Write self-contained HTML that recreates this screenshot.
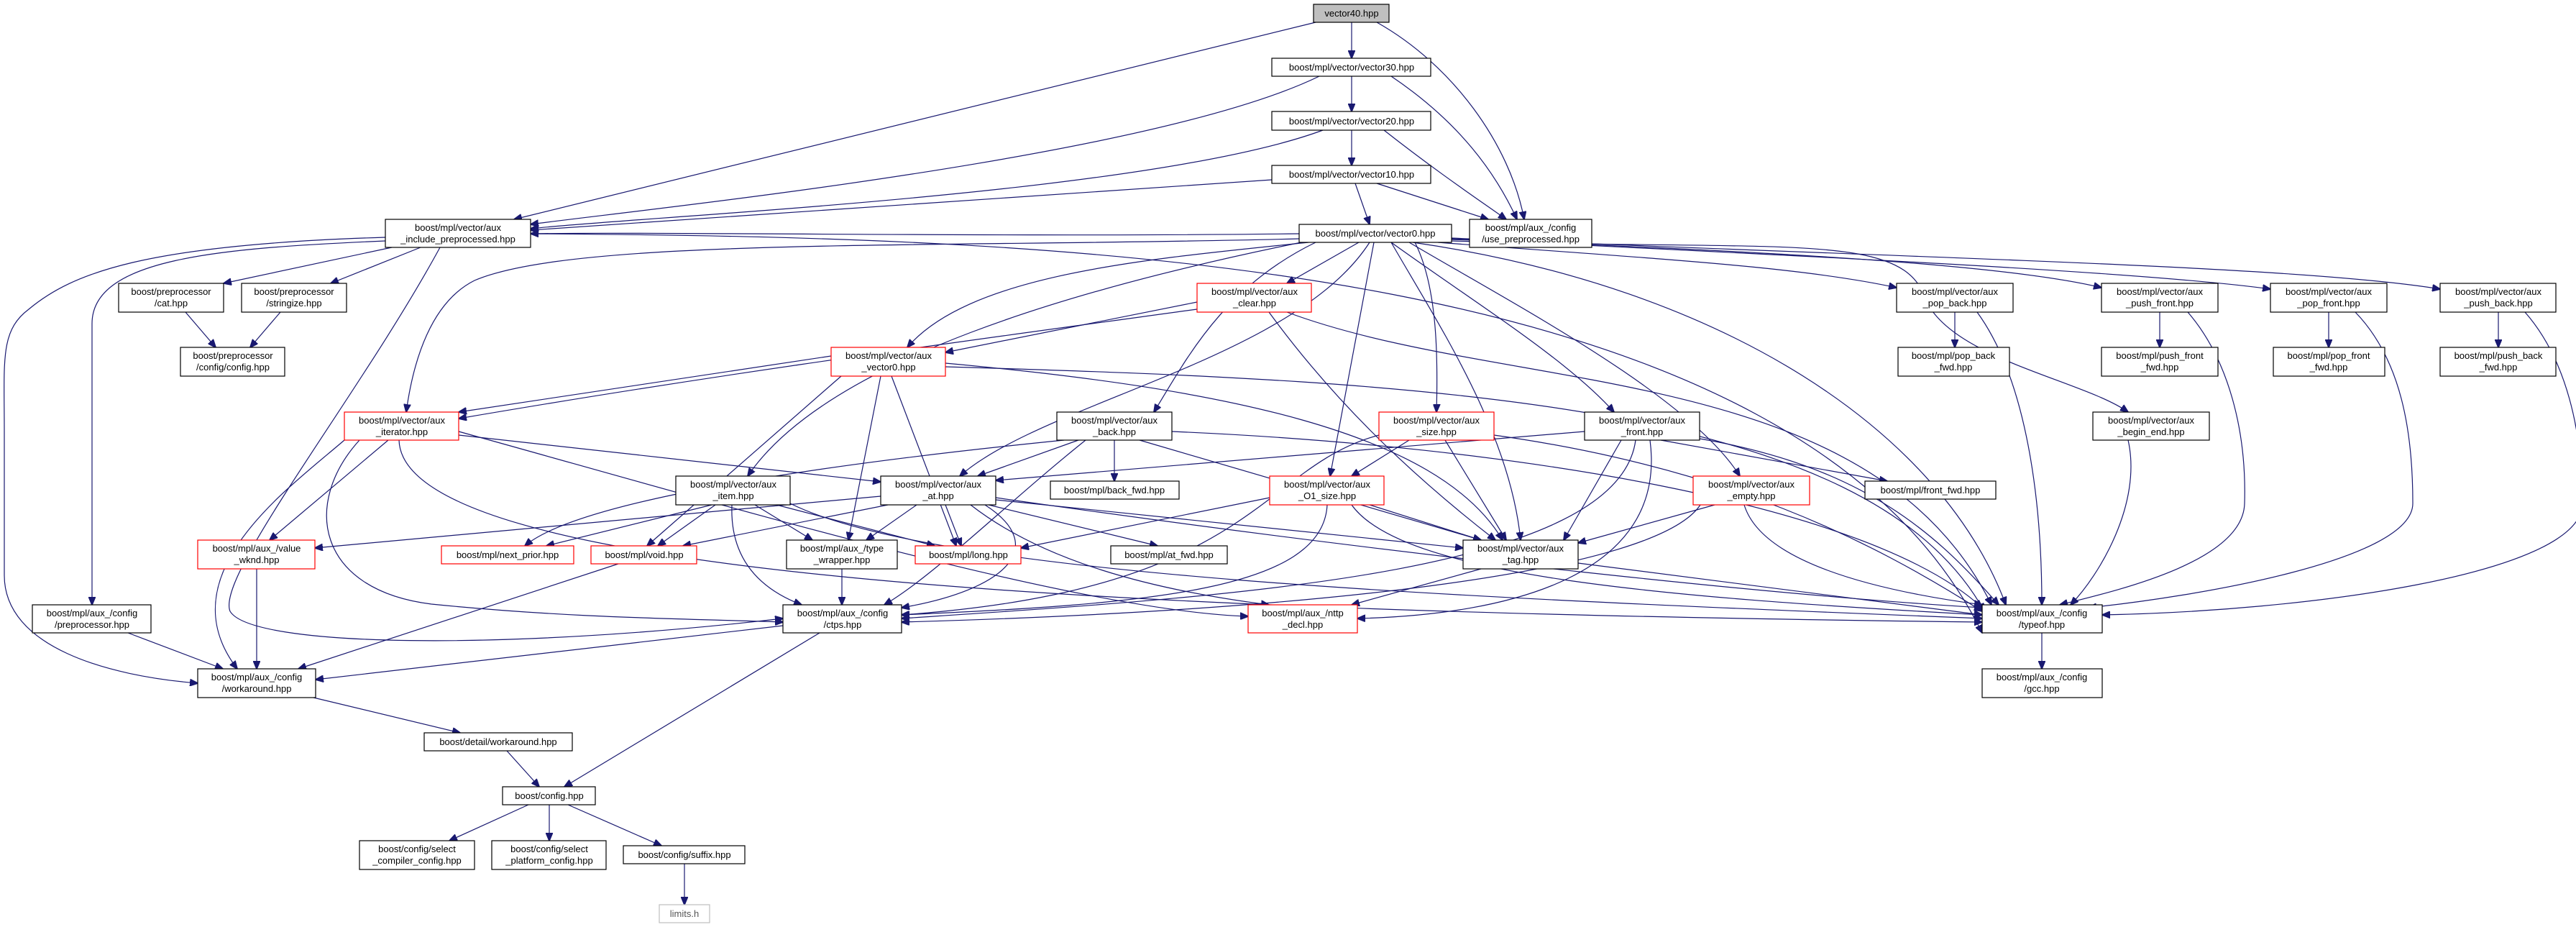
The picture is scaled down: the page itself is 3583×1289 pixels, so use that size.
<!DOCTYPE html>
<html><head><meta charset="utf-8"><style>
html,body{margin:0;padding:0;background:#fff;}
svg{display:block;}
text{font-family:"Liberation Sans",sans-serif;font-size:13px;fill:#000;text-anchor:middle;}
.n{fill:#fff;stroke:#000;stroke-width:1.2;}
.r{fill:#fff;stroke:#ff0000;stroke-width:1.2;}
.e path{fill:none;stroke:#191970;stroke-width:1.2;}
</style></head><body>
<svg width="3583" height="1289" viewBox="0 0 3583 1289" xmlns="http://www.w3.org/2000/svg">
<defs><marker id="a" markerWidth="12" markerHeight="10" refX="11" refY="5" orient="auto" markerUnits="userSpaceOnUse"><path d="M0,0 L12,5 L0,10 z" fill="#191970" stroke="#191970"/></marker></defs>
<g class="e" marker-end="url(#a)">
<path d="M1880,31 L1880,81" marker-end="url(#a)"/>
<path d="M1830,31 L715,305" marker-end="url(#a)"/>
<path d="M1915,31 C2020,90 2100,200 2120,305" marker-end="url(#a)"/>
<path d="M1880,106 L1880,155" marker-end="url(#a)"/>
<path d="M1835,106 C1600,220 900,290 738,312" marker-end="url(#a)"/>
<path d="M1935,106 C2030,170 2080,240 2110,305" marker-end="url(#a)"/>
<path d="M1880,181 L1880,230" marker-end="url(#a)"/>
<path d="M1840,181 C1600,270 900,300 738,318" marker-end="url(#a)"/>
<path d="M1925,181 C2000,240 2060,280 2095,305" marker-end="url(#a)"/>
<path d="M1885,255 L1905,312" marker-end="url(#a)"/>
<path d="M1769,250 L738,320" marker-end="url(#a)"/>
<path d="M1915,255 L2070,305" marker-end="url(#a)"/>
<path d="M1807,325 C1400,330 900,322 738,325" marker-end="url(#a)"/>
<path d="M1890,337 L1790,394" marker-end="url(#a)"/>
<path d="M1820,337 C1600,360 1350,380 1262,483" marker-end="url(#a)"/>
<path d="M1807,332 C1300,345 800,330 660,390 C600,420 575,500 565,573" marker-end="url(#a)"/>
<path d="M1830,337 C1700,400 1650,500 1605,573" marker-end="url(#a)"/>
<path d="M1968,337 C2000,400 2000,500 1998,573" marker-end="url(#a)"/>
<path d="M1935,337 C2050,420 2180,500 2245,573" marker-end="url(#a)"/>
<path d="M1810,337 C1500,400 1150,500 1040,662" marker-end="url(#a)"/>
<path d="M1905,337 C1800,500 1450,560 1335,662" marker-end="url(#a)"/>
<path d="M1911,337 L1850,662" marker-end="url(#a)"/>
<path d="M1960,337 C2100,420 2350,550 2420,662" marker-end="url(#a)"/>
<path d="M1935,337 C2000,450 2100,600 2115,751" marker-end="url(#a)"/>
<path d="M1965,337 C2400,400 2700,600 2790,841" marker-end="url(#a)"/>
<path d="M2000,337 C2300,360 2500,370 2638,400" marker-end="url(#a)"/>
<path d="M2019,333 C2500,350 2800,370 2923,400" marker-end="url(#a)"/>
<path d="M2019,332 C2600,360 3000,380 3158,402" marker-end="url(#a)"/>
<path d="M2019,331 C2700,360 3200,370 3394,402" marker-end="url(#a)"/>
<path d="M2019,335 C2500,350 2650,320 2680,420 C2720,500 2900,530 2960,573" marker-end="url(#a)"/>
<path d="M545,344 L311,394" marker-end="url(#a)"/>
<path d="M585,344 L460,394" marker-end="url(#a)"/>
<path d="M536,335 C300,345 128,360 128,450 L128,841" marker-end="url(#a)"/>
<path d="M536,330 C200,340 100,380 40,430 C0,460 6,500 6,600 L6,800 C6,900 150,940 275,950" marker-end="url(#a)"/>
<path d="M612,344 C500,550 300,800 320,850 C350,900 700,905 1089,860" marker-end="url(#a)"/>
<path d="M738,325 C1500,330 2500,360 2757,880" marker-end="url(#a)"/>
<path d="M258,434 L300,483" marker-end="url(#a)"/>
<path d="M390,434 L348,483" marker-end="url(#a)"/>
<path d="M1665,420 L1315,490" marker-end="url(#a)"/>
<path d="M1665,430 C1300,480 1000,520 638,582" marker-end="url(#a)"/>
<path d="M1765,434 C1850,550 1950,650 2080,751" marker-end="url(#a)"/>
<path d="M1790,434 C2100,550 2600,500 2770,841" marker-end="url(#a)"/>
<path d="M1156,495 L638,573" marker-end="url(#a)"/>
<path d="M1225,523 L1180,751" marker-end="url(#a)"/>
<path d="M1240,523 L1330,759" marker-end="url(#a)"/>
<path d="M1170,523 L900,759" marker-end="url(#a)"/>
<path d="M1315,505 C1700,540 2000,600 2090,751" marker-end="url(#a)"/>
<path d="M1315,510 C2000,530 2600,560 2760,850" marker-end="url(#a)"/>
<path d="M638,605 L1225,670" marker-end="url(#a)"/>
<path d="M540,612 L375,751" marker-end="url(#a)"/>
<path d="M500,612 C420,700 440,820 600,840 C800,860 950,860 1089,865" marker-end="url(#a)"/>
<path d="M479,612 C400,680 230,800 330,930" marker-end="url(#a)"/>
<path d="M555,612 C560,800 1500,850 2757,865" marker-end="url(#a)"/>
<path d="M638,600 C1000,700 1500,850 1736,857" marker-end="url(#a)"/>
<path d="M1500,612 L1360,662" marker-end="url(#a)"/>
<path d="M1550,612 L1550,669" marker-end="url(#a)"/>
<path d="M1480,612 C1100,650 800,700 730,759" marker-end="url(#a)"/>
<path d="M1585,612 L2060,751" marker-end="url(#a)"/>
<path d="M1630,600 C2100,620 2600,700 2757,845" marker-end="url(#a)"/>
<path d="M1510,612 C1400,700 1300,800 1230,841" marker-end="url(#a)"/>
<path d="M1960,612 L1880,662" marker-end="url(#a)"/>
<path d="M2010,612 L2095,751" marker-end="url(#a)"/>
<path d="M2078,605 C2400,650 2600,750 2757,850" marker-end="url(#a)"/>
<path d="M1918,605 C1750,650 1750,820 1254,855" marker-end="url(#a)"/>
<path d="M2204,600 L1385,668" marker-end="url(#a)"/>
<path d="M2310,612 L2625,669" marker-end="url(#a)"/>
<path d="M2255,612 L2175,751" marker-end="url(#a)"/>
<path d="M2364,610 C2600,650 2700,750 2780,841" marker-end="url(#a)"/>
<path d="M2275,612 C2250,800 1700,830 1254,860" marker-end="url(#a)"/>
<path d="M2295,612 C2320,800 2100,855 1888,860" marker-end="url(#a)"/>
<path d="M2385,702 L2195,755" marker-end="url(#a)"/>
<path d="M2426,702 C2450,780 2600,820 2757,841" marker-end="url(#a)"/>
<path d="M2365,702 C2300,800 1800,850 1254,865" marker-end="url(#a)"/>
<path d="M990,702 L760,759" marker-end="url(#a)"/>
<path d="M995,702 L915,759" marker-end="url(#a)"/>
<path d="M1050,702 L1130,751" marker-end="url(#a)"/>
<path d="M1018,702 C1015,780 1060,820 1115,841" marker-end="url(#a)"/>
<path d="M1080,702 L1300,759" marker-end="url(#a)"/>
<path d="M1099,700 C1300,800 2000,830 2757,860" marker-end="url(#a)"/>
<path d="M1225,690 L438,762" marker-end="url(#a)"/>
<path d="M1235,702 L950,759" marker-end="url(#a)"/>
<path d="M1275,702 L1205,751" marker-end="url(#a)"/>
<path d="M1315,702 L1337,759" marker-end="url(#a)"/>
<path d="M1375,702 L1610,759" marker-end="url(#a)"/>
<path d="M1385,695 L2035,762" marker-end="url(#a)"/>
<path d="M1370,702 C1460,760 1400,820 1254,845" marker-end="url(#a)"/>
<path d="M1350,702 C1450,780 1600,820 1765,841" marker-end="url(#a)"/>
<path d="M1385,692 C2000,780 2500,830 2757,845" marker-end="url(#a)"/>
<path d="M1766,692 L1420,762" marker-end="url(#a)"/>
<path d="M1905,702 L2060,751" marker-end="url(#a)"/>
<path d="M1846,702 C1840,820 1600,840 1254,855" marker-end="url(#a)"/>
<path d="M1880,702 C1950,800 2300,830 2757,855" marker-end="url(#a)"/>
<path d="M2060,791 L1880,841" marker-end="url(#a)"/>
<path d="M2195,783 L2757,855" marker-end="url(#a)"/>
<path d="M2719,434 L2719,483" marker-end="url(#a)"/>
<path d="M2750,434 C2820,530 2840,700 2840,841" marker-end="url(#a)"/>
<path d="M3004,434 L3004,483" marker-end="url(#a)"/>
<path d="M3043,434 C3100,500 3125,600 3122,700 C3120,780 2950,820 2865,841" marker-end="url(#a)"/>
<path d="M3239,434 L3239,483" marker-end="url(#a)"/>
<path d="M3276,434 C3340,500 3356,600 3356,700 C3356,780 3050,830 2905,845" marker-end="url(#a)"/>
<path d="M3475,434 L3475,483" marker-end="url(#a)"/>
<path d="M3512,434 C3570,500 3592,600 3592,700 C3592,800 3200,850 2924,855" marker-end="url(#a)"/>
<path d="M2960,612 C2980,700 2920,800 2880,841" marker-end="url(#a)"/>
<path d="M357,791 L357,930" marker-end="url(#a)"/>
<path d="M860,784 L415,930" marker-end="url(#a)"/>
<path d="M1171,791 L1171,841" marker-end="url(#a)"/>
<path d="M178,880 L310,930" marker-end="url(#a)"/>
<path d="M1089,870 L439,945" marker-end="url(#a)"/>
<path d="M1140,880 L785,1094" marker-end="url(#a)"/>
<path d="M2840,880 L2840,930" marker-end="url(#a)"/>
<path d="M436,970 L640,1019" marker-end="url(#a)"/>
<path d="M705,1044 L750,1094" marker-end="url(#a)"/>
<path d="M735,1119 L625,1169" marker-end="url(#a)"/>
<path d="M764,1119 L764,1169" marker-end="url(#a)"/>
<path d="M790,1119 L920,1176" marker-end="url(#a)"/>
<path d="M952,1201 L952,1258" marker-end="url(#a)"/>
</g>
<g>
<rect x="1827" y="6" width="105" height="25" fill="#bfbfbf" stroke="#000" stroke-width="1.2"/><text x="1880" y="23">vector40.hpp</text>
<rect class="n" x="1769" y="81" width="221" height="25"/><text x="1880" y="98">boost/mpl/vector/vector30.hpp</text>
<rect class="n" x="1769" y="155" width="221" height="26"/><text x="1880" y="173">boost/mpl/vector/vector20.hpp</text>
<rect class="n" x="1769" y="230" width="221" height="25"/><text x="1880" y="247">boost/mpl/vector/vector10.hpp</text>
<rect class="n" x="1807" y="312" width="212" height="25"/><text x="1913" y="329">boost/mpl/vector/vector0.hpp</text>
<rect class="n" x="536" y="305" width="202" height="39"/><text x="637" y="321">boost/mpl/vector/aux</text><text x="637" y="337">_include_preprocessed.hpp</text>
<rect class="n" x="2044" y="305" width="170" height="39"/><text x="2129" y="321">boost/mpl/aux_/config</text><text x="2129" y="337">/use_preprocessed.hpp</text>
<rect class="n" x="165" y="394" width="146" height="40"/><text x="238" y="410">boost/preprocessor</text><text x="238" y="426">/cat.hpp</text>
<rect class="n" x="336" y="394" width="146" height="40"/><text x="409" y="410">boost/preprocessor</text><text x="409" y="426">/stringize.hpp</text>
<rect class="r" x="1665" y="394" width="159" height="40"/><text x="1745" y="410">boost/mpl/vector/aux</text><text x="1745" y="426">_clear.hpp</text>
<rect class="n" x="2638" y="394" width="162" height="40"/><text x="2719" y="410">boost/mpl/vector/aux</text><text x="2719" y="426">_pop_back.hpp</text>
<rect class="n" x="2923" y="394" width="162" height="40"/><text x="3004" y="410">boost/mpl/vector/aux</text><text x="3004" y="426">_push_front.hpp</text>
<rect class="n" x="3158" y="394" width="162" height="40"/><text x="3239" y="410">boost/mpl/vector/aux</text><text x="3239" y="426">_pop_front.hpp</text>
<rect class="n" x="3394" y="394" width="161" height="40"/><text x="3475" y="410">boost/mpl/vector/aux</text><text x="3475" y="426">_push_back.hpp</text>
<rect class="n" x="251" y="483" width="145" height="40"/><text x="324" y="499">boost/preprocessor</text><text x="324" y="515">/config/config.hpp</text>
<rect class="r" x="1156" y="483" width="159" height="40"/><text x="1236" y="499">boost/mpl/vector/aux</text><text x="1236" y="515">_vector0.hpp</text>
<rect class="n" x="2640" y="483" width="155" height="40"/><text x="2717" y="499">boost/mpl/pop_back</text><text x="2717" y="515">_fwd.hpp</text>
<rect class="n" x="2923" y="483" width="162" height="40"/><text x="3004" y="499">boost/mpl/push_front</text><text x="3004" y="515">_fwd.hpp</text>
<rect class="n" x="3162" y="483" width="155" height="40"/><text x="3239" y="499">boost/mpl/pop_front</text><text x="3239" y="515">_fwd.hpp</text>
<rect class="n" x="3394" y="483" width="161" height="40"/><text x="3475" y="499">boost/mpl/push_back</text><text x="3475" y="515">_fwd.hpp</text>
<rect class="r" x="479" y="573" width="159" height="39"/><text x="559" y="589">boost/mpl/vector/aux</text><text x="559" y="605">_iterator.hpp</text>
<rect class="n" x="1470" y="573" width="160" height="39"/><text x="1550" y="589">boost/mpl/vector/aux</text><text x="1550" y="605">_back.hpp</text>
<rect class="r" x="1918" y="573" width="160" height="39"/><text x="1998" y="589">boost/mpl/vector/aux</text><text x="1998" y="605">_size.hpp</text>
<rect class="n" x="2204" y="573" width="160" height="39"/><text x="2284" y="589">boost/mpl/vector/aux</text><text x="2284" y="605">_front.hpp</text>
<rect class="n" x="2911" y="573" width="162" height="39"/><text x="2992" y="589">boost/mpl/vector/aux</text><text x="2992" y="605">_begin_end.hpp</text>
<rect class="n" x="940" y="662" width="159" height="40"/><text x="1020" y="678">boost/mpl/vector/aux</text><text x="1020" y="694">_item.hpp</text>
<rect class="n" x="1225" y="662" width="160" height="40"/><text x="1305" y="678">boost/mpl/vector/aux</text><text x="1305" y="694">_at.hpp</text>
<rect class="n" x="1461" y="669" width="179" height="25"/><text x="1550" y="686">boost/mpl/back_fwd.hpp</text>
<rect class="r" x="1766" y="662" width="159" height="40"/><text x="1846" y="678">boost/mpl/vector/aux</text><text x="1846" y="694">_O1_size.hpp</text>
<rect class="r" x="2355" y="662" width="162" height="40"/><text x="2436" y="678">boost/mpl/vector/aux</text><text x="2436" y="694">_empty.hpp</text>
<rect class="n" x="2594" y="669" width="182" height="25"/><text x="2685" y="686">boost/mpl/front_fwd.hpp</text>
<rect class="r" x="275" y="751" width="163" height="40"/><text x="357" y="767">boost/mpl/aux_/value</text><text x="357" y="783">_wknd.hpp</text>
<rect class="n" x="1094" y="751" width="154" height="40"/><text x="1171" y="767">boost/mpl/aux_/type</text><text x="1171" y="783">_wrapper.hpp</text>
<rect class="n" x="2035" y="751" width="160" height="40"/><text x="2115" y="767">boost/mpl/vector/aux</text><text x="2115" y="783">_tag.hpp</text>
<rect class="r" x="614" y="759" width="184" height="25"/><text x="706" y="776">boost/mpl/next_prior.hpp</text>
<rect class="r" x="822" y="759" width="147" height="25"/><text x="896" y="776">boost/mpl/void.hpp</text>
<rect class="r" x="1273" y="759" width="147" height="25"/><text x="1347" y="776">boost/mpl/long.hpp</text>
<rect class="n" x="1545" y="759" width="162" height="25"/><text x="1626" y="776">boost/mpl/at_fwd.hpp</text>
<rect class="n" x="45" y="841" width="165" height="39"/><text x="128" y="857">boost/mpl/aux_/config</text><text x="128" y="873">/preprocessor.hpp</text>
<rect class="n" x="1089" y="841" width="165" height="39"/><text x="1172" y="857">boost/mpl/aux_/config</text><text x="1172" y="873">/ctps.hpp</text>
<rect class="r" x="1736" y="841" width="152" height="39"/><text x="1812" y="857">boost/mpl/aux_/nttp</text><text x="1812" y="873">_decl.hpp</text>
<rect class="n" x="2757" y="841" width="167" height="39"/><text x="2840" y="857">boost/mpl/aux_/config</text><text x="2840" y="873">/typeof.hpp</text>
<rect class="n" x="275" y="930" width="164" height="40"/><text x="357" y="946">boost/mpl/aux_/config</text><text x="357" y="962">/workaround.hpp</text>
<rect class="n" x="2757" y="930" width="167" height="40"/><text x="2840" y="946">boost/mpl/aux_/config</text><text x="2840" y="962">/gcc.hpp</text>
<rect class="n" x="590" y="1019" width="206" height="25"/><text x="693" y="1036">boost/detail/workaround.hpp</text>
<rect class="n" x="699" y="1094" width="129" height="25"/><text x="764" y="1111">boost/config.hpp</text>
<rect class="n" x="500" y="1169" width="160" height="40"/><text x="580" y="1185">boost/config/select</text><text x="580" y="1201">_compiler_config.hpp</text>
<rect class="n" x="684" y="1169" width="159" height="40"/><text x="764" y="1185">boost/config/select</text><text x="764" y="1201">_platform_config.hpp</text>
<rect class="n" x="867" y="1176" width="169" height="25"/><text x="952" y="1193">boost/config/suffix.hpp</text>
<rect x="917" y="1258" width="70" height="25" fill="#fff" stroke="#bfbfbf" stroke-width="1.2"/><text x="952" y="1275" style="fill:#555">limits.h</text>
</g>
</svg>
</body></html>
